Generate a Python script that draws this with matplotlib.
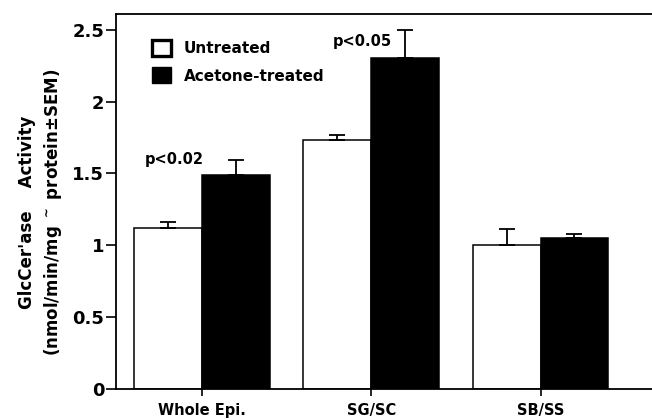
import numpy as np
import matplotlib
matplotlib.use('Agg')
import matplotlib.pyplot as plt
from matplotlib.patches import Patch

groups = ['Whole Epi.', 'SG/SC', 'SB/SS']
untreated = [1.12, 1.73, 1.00]
untreated_sem = [0.04, 0.04, 0.11]
acetone = [1.49, 2.30, 1.05]
acetone_sem = [0.10, 0.20, 0.03]
p_labels = ['p<0.02', 'p<0.05']

plt.rcParams['font.family'] = 'DejaVu Sans'
plt.rcParams['font.weight'] = 'bold'

fig = plt.figure(figsize=(6.52, 4.2), dpi=100)
ax = fig.add_axes([0.178, 0.074, 0.833, 0.893])

x = np.arange(len(groups))
w = 0.4
ax.bar(x - w/2, untreated, w, color='white', edgecolor='black', linewidth=1.1, zorder=2)
ax.bar(x + w/2, acetone, w, color='black', edgecolor='black', linewidth=1.1, zorder=2)
# only the upper half of the error bars is drawn
ax.errorbar(x - w/2, untreated, yerr=[np.zeros(3), untreated_sem], fmt='none',
            ecolor='black', elinewidth=1.3, capsize=5.5, capthick=1.3, zorder=3)
ax.errorbar(x + w/2, acetone, yerr=[np.zeros(3), acetone_sem], fmt='none',
            ecolor='black', elinewidth=1.3, capsize=5.5, capthick=1.3, zorder=3)

ax.text(-0.16, 1.595, p_labels[0], ha='center', va='center', fontsize=10.5, fontweight='bold')
ax.text(-0.053 + 1, 2.42, p_labels[1], ha='center', va='center', fontsize=10.5, fontweight='bold')

ax.set_xlim(-0.506, 2.7)
ax.set_ylim(0, 2.61)
ax.set_yticks([0, 0.5, 1, 1.5, 2, 2.5])
ax.set_yticklabels(['0', '0.5', '1', '1.5', '2', '2.5'])
ax.set_xticks(x)
ax.set_xticklabels(groups, fontsize=10.5, fontweight='bold')
ax.tick_params(axis='y', direction='out', length=7, width=1.2, labelsize=13, pad=1.5)
ax.tick_params(axis='x', direction='out', length=5, width=1.2, pad=5)
for s in ['left', 'bottom', 'top']:
    ax.spines[s].set_linewidth(1.3)
ax.spines['right'].set_visible(False)

fig.text(41 / 652, 1 - 212 / 420,
         "GlcCer'ase    Activity\n(nmol/min/mg $^{\\sim}$ protein\u00b1SEM)",
         rotation=90, ha='center', va='center', fontsize=12, fontweight='bold',
         linespacing=1.35, multialignment='center')

handles = [Patch(facecolor='white', edgecolor='black', linewidth=2.4, label='Untreated'),
           Patch(facecolor='black', edgecolor='black', label='Acetone-treated')]
ax.legend(handles=handles, loc='upper left', bbox_to_anchor=(0.04, 0.968), frameon=False,
          handlelength=1.25, handleheight=1.25, handletextpad=0.85, labelspacing=0.75,
          prop={'size': 11, 'weight': 'bold'})

fig.savefig('out.png', dpi=100)
